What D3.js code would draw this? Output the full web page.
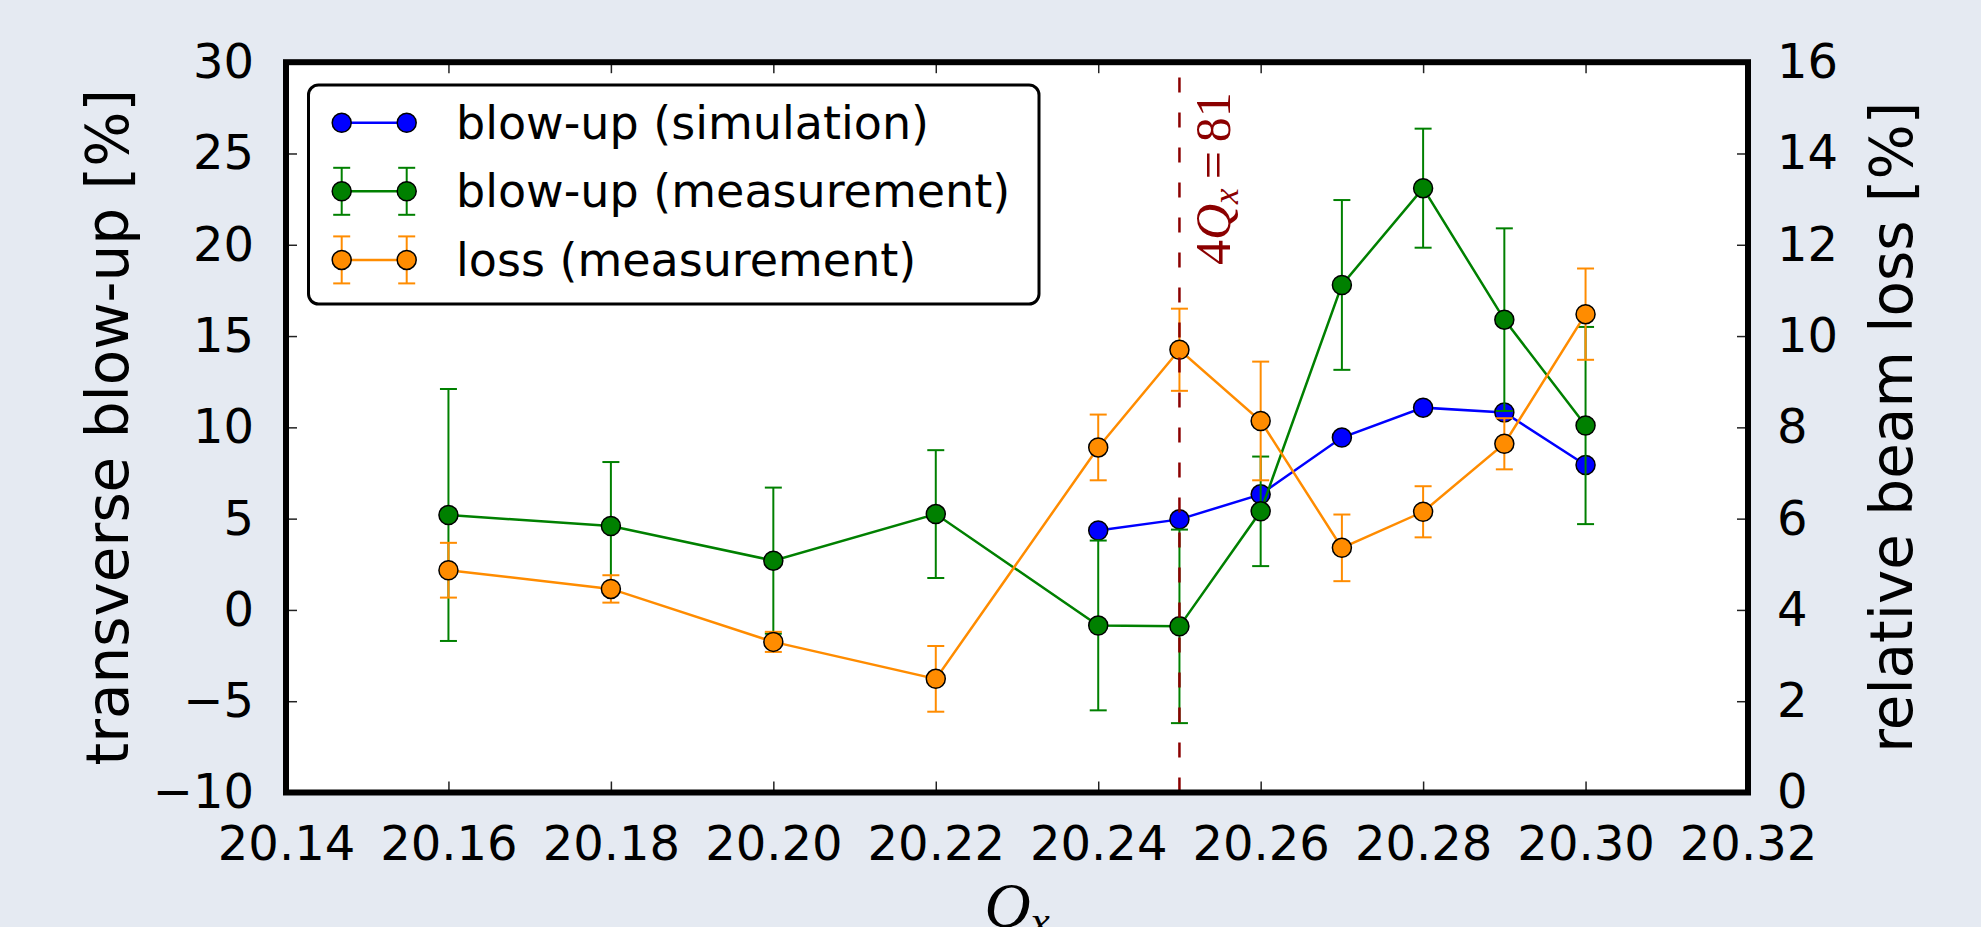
<!DOCTYPE html>
<html>
<head>
<meta charset="utf-8">
<script src="https://cdn.jsdelivr.net/npm/d3@7"></script>
<style>
  body { margin: 0; background: #e5eaf2; }
  svg { display: block; }
</style>
</head>
<body>
<div id="chart"></div>
<script>
// values
var qx = [20.16, 20.18, 20.20, 20.22, 20.24, 20.25, 20.26, 20.27, 20.28, 20.29, 20.30]
var qx_sim = [20.24, 20.25, 20.26, 20.27, 20.28, 20.29, 20.30]
var blowup_sim = [4.35, 4.96, 6.33, 9.44, 11.08, 10.81, 7.94]
var blowup_meas = [5.2, 4.6, 2.7, 5.25, -0.85, -0.9, 5.4, 17.8, 23.1, 15.9, 10.1]
var blowup_err = [6.9, 3.5, 4.0, 3.5, 4.65, 5.3, 3.0, 4.65, 3.26, 5.0, 5.4]
var loss_meas = [4.87, 4.46, 3.30, 2.49, 7.56, 9.70, 8.14, 5.36, 6.15, 7.64, 10.48]
var loss_err = [0.6, 0.3, 0.22, 0.72, 0.72, 0.9, 1.3, 0.73, 0.56, 0.56, 1.0]
var resonance_q = 20.25

var x_ticks = [20.14, 20.16, 20.18, 20.20, 20.22, 20.24, 20.26, 20.28, 20.30, 20.32]
var left_ticks = [-10, -5, 0, 5, 10, 15, 20, 25, 30]
var right_ticks = [0, 2, 4, 6, 8, 10, 12, 14, 16]
var legend_labels = ["blow-up (simulation)", "blow-up (measurement)", "loss (measurement)"]

var w = 1981, h = 927
// (window.top is read-only, so no plain "top" here)
var ax_left = 286, ax_right = 1748, ax_top = 62.2, ax_bottom = 792.5
var rad = 9.5
var cap = 8.5
var blue = "#0000ff", green = "#008000", orange = "#ff8c00", darkred = "#8b0000"
var sans = "DejaVu Sans", serif = "Liberation Serif"

var x = d3.scaleLinear().domain([20.14, 20.32]).range([ax_left, ax_right])
var yl = d3.scaleLinear().domain([-10, 30]).range([ax_bottom, ax_top])
var yr = d3.scaleLinear().domain([0, 16]).range([ax_bottom, ax_top])

var svg = d3.select("#chart").append("svg")
  .attr("width", w)
  .attr("height", h)
  .style("font-family", sans)

svg.append("rect")
  .attr("x", ax_left).attr("y", ax_top)
  .attr("width", ax_right - ax_left).attr("height", ax_bottom - ax_top)
  .attr("fill", "white")

// axes, ticks pointing inwards
var styleAxis = function(g) {
  g.select(".domain").remove()
  g.selectAll(".tick line").attr("stroke", "#222").attr("stroke-width", 1.5)
  g.selectAll("text").attr("font-size", 48).attr("fill", "black")
    .attr("font-family", sans)
}

svg.append("g")
  .attr("transform", "translate(0," + ax_bottom + ")")
  .call(d3.axisBottom(x).tickValues(x_ticks).tickFormat(d3.format(".2f")).tickSizeInner(-11).tickSizeOuter(0))
  .call(styleAxis)
  .selectAll("text").attr("y", 67.5).attr("dy", 0)

svg.append("g")
  .attr("transform", "translate(0," + ax_top + ")")
  .call(d3.axisTop(x).tickValues(x_ticks).tickFormat("").tickSizeInner(-11).tickSizeOuter(0))
  .call(styleAxis)

svg.append("g")
  .attr("transform", "translate(" + ax_left + ",0)")
  .call(d3.axisLeft(yl).tickValues(left_ticks).tickFormat(d3.format("d")).tickSizeInner(-11).tickSizeOuter(0).tickPadding(32))
  .call(styleAxis)

svg.append("g")
  .attr("transform", "translate(" + ax_right + ",0)")
  .call(d3.axisRight(yr).tickValues(right_ticks).tickFormat(d3.format("d")).tickSizeInner(-11).tickSizeOuter(0).tickPadding(29))
  .call(styleAxis)

// simulation
var plot = svg.append("g")

plot.append("path")
  .datum(d3.range(qx_sim.length))
  .attr("fill", "none")
  .attr("stroke", blue)
  .attr("stroke-width", 2.5)
  .attr("d", d3.line().x(function(i){ return x(qx_sim[i]) }).y(function(i){ return yl(blowup_sim[i]) }))

plot.selectAll(".sim")
  .data(d3.range(qx_sim.length))
  .enter().append("circle")
  .attr("class", "sim")
  .attr("cx", function(i){ return x(qx_sim[i]) })
  .attr("cy", function(i){ return yl(blowup_sim[i]) })
  .attr("r", rad)
  .attr("fill", blue)
  .attr("stroke", "black")
  .attr("stroke-width", 1.5)

// measurements with error bars
var drawErr = function(vals, errs, scale, color) {
  var idx = d3.range(qx.length)
  var g = plot.append("g")
  g.selectAll("line.bar").data(idx).enter().append("line")
    .attr("class", "bar")
    .attr("x1", function(i){ return x(qx[i]) })
    .attr("x2", function(i){ return x(qx[i]) })
    .attr("y1", function(i){ return scale(vals[i] - errs[i]) })
    .attr("y2", function(i){ return scale(vals[i] + errs[i]) })
    .attr("stroke", color).attr("stroke-width", 2)
  ;[-1, 1].forEach(function(s) {
    g.selectAll("line.cap" + (s + 1)).data(idx).enter().append("line")
      .attr("class", "cap" + (s + 1))
      .attr("x1", function(i){ return x(qx[i]) - cap })
      .attr("x2", function(i){ return x(qx[i]) + cap })
      .attr("y1", function(i){ return scale(vals[i] + s * errs[i]) })
      .attr("y2", function(i){ return scale(vals[i] + s * errs[i]) })
      .attr("stroke", color).attr("stroke-width", 2)
  })
  g.append("path")
    .datum(idx)
    .attr("fill", "none")
    .attr("stroke", color)
    .attr("stroke-width", 2.5)
    .attr("d", d3.line().x(function(i){ return x(qx[i]) }).y(function(i){ return scale(vals[i]) }))
  g.selectAll("circle").data(idx).enter().append("circle")
    .attr("cx", function(i){ return x(qx[i]) })
    .attr("cy", function(i){ return scale(vals[i]) })
    .attr("r", rad)
    .attr("fill", color)
    .attr("stroke", "black")
    .attr("stroke-width", 1.5)
}

drawErr(blowup_meas, blowup_err, yl, green)
drawErr(loss_meas, loss_err, yr, orange)

// 4Qx = 81 resonance line, dashes start at the bottom
svg.append("line")
  .attr("x1", x(resonance_q)).attr("x2", x(resonance_q))
  .attr("y1", ax_bottom).attr("y2", ax_top)
  .attr("stroke", darkred)
  .attr("stroke-width", 2.5)
  .attr("stroke-dasharray", "15,20")

var res_label = svg.append("text")
  .attr("transform", "translate(" + (x(resonance_q) + 51) + ",265) rotate(-90)")
  .style("font-family", serif)
  .attr("font-size", 50)
  .attr("fill", darkred)
res_label.append("tspan").text("4")
res_label.append("tspan").attr("font-style", "italic").text("Q")
res_label.append("tspan").attr("font-style", "italic").attr("font-size", 35).attr("dy", 8).text("x")
res_label.append("tspan").attr("dy", -8).attr("dx", 9).text("=")
res_label.append("tspan").attr("dx", 9).text("81")

// spines
svg.append("rect")
  .attr("x", ax_left).attr("y", ax_top)
  .attr("width", ax_right - ax_left).attr("height", ax_bottom - ax_top)
  .attr("fill", "none")
  .attr("stroke", "black")
  .attr("stroke-width", 6)

// axis labels
svg.append("text")
  .attr("transform", "translate(128," + (ax_top + ax_bottom) / 2 + ") rotate(-90)")
  .attr("text-anchor", "middle")
  .attr("font-size", 58)
  .text("transverse blow-up [%]")

svg.append("text")
  .attr("transform", "translate(1912," + (ax_top + ax_bottom) / 2 + ") rotate(-90)")
  .attr("text-anchor", "middle")
  .attr("font-size", 58)
  .text("relative beam loss [%]")

var xlab = svg.append("text")
  .attr("x", (ax_left + ax_right) / 2)
  .attr("y", 927)
  .attr("text-anchor", "middle")
  .style("font-family", serif)
  .attr("font-style", "italic")
  .attr("font-size", 64)
xlab.append("tspan").text("Q")
xlab.append("tspan").attr("font-size", 44).attr("dy", 9).text("x")

// legend
var leg = svg.append("g")
leg.append("rect")
  .attr("x", 308.5).attr("y", 85)
  .attr("width", 1039 - 308.5).attr("height", 304 - 85)
  .attr("rx", 10)
  .attr("fill", "white")
  .attr("stroke", "black")
  .attr("stroke-width", 3)

var leg_colors = [blue, green, orange]
var leg_err = [false, true, true]
var hx = [341.7, 406.7]
legend_labels.forEach(function(lab, i) {
  var cy = 122.7 + i * 68.6
  var g = leg.append("g")
  if (leg_err[i]) {
    hx.forEach(function(px) {
      g.append("line").attr("x1", px).attr("x2", px).attr("y1", cy - 23.5).attr("y2", cy + 23.5)
        .attr("stroke", leg_colors[i]).attr("stroke-width", 2)
      ;[-23.5, 23.5].forEach(function(o) {
        g.append("line").attr("x1", px - cap).attr("x2", px + cap).attr("y1", cy + o).attr("y2", cy + o)
          .attr("stroke", leg_colors[i]).attr("stroke-width", 2)
      })
    })
  }
  g.append("line").attr("x1", hx[0]).attr("x2", hx[1]).attr("y1", cy).attr("y2", cy)
    .attr("stroke", leg_colors[i]).attr("stroke-width", 2.5)
  hx.forEach(function(px) {
    g.append("circle").attr("cx", px).attr("cy", cy).attr("r", rad)
      .attr("fill", leg_colors[i]).attr("stroke", "black").attr("stroke-width", 1.5)
  })
  g.append("text")
    .attr("x", 456)
    .attr("y", cy + 16)
    .attr("font-size", 46)
    .text(lab)
})
</script>
</body>
</html>
